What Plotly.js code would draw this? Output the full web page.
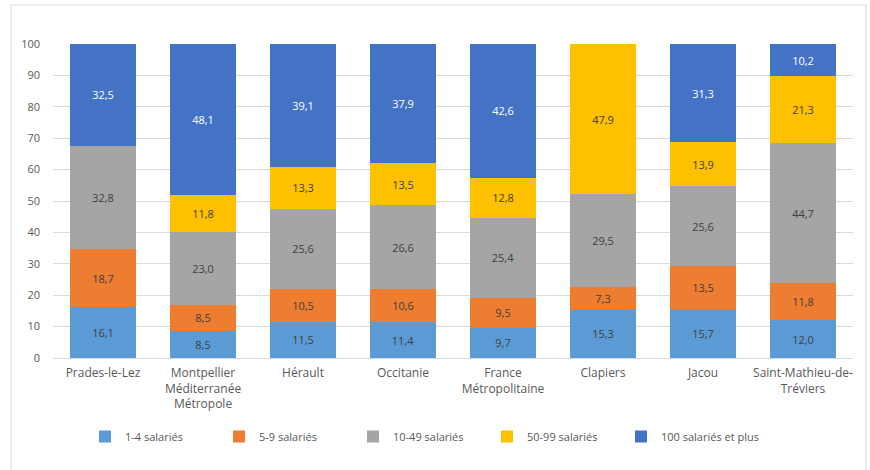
<!DOCTYPE html>
<html>
<head>
<meta charset="utf-8">
<script src="https://cdn.plot.ly/plotly-3.0.1.min.js"></script>
<style>
html,body{margin:0;padding:0;background:#fff;}
#chart{width:870px;height:470px;}
</style>
</head>
<body>
<div id="chart"></div>
<script>
const categories = ["Prades-le-Lez", "Montpellier<br>Méditerranée<br>Métropole", "Hérault", "Occitanie", "France<br>Métropolitaine", "Clapiers", "Jacou", "Saint-Mathieu-de-<br>Tréviers"];
const seriesNames = ["1-4 salariés", "5-9 salariés", "10-49 salariés", "50-99 salariés", "100 salariés et plus"];
const s1_4 = [16.1, 8.5, 11.5, 11.4, 9.7, 15.3, 15.7, 12.0];
const s5_9 = [18.7, 8.5, 10.5, 10.6, 9.5, 7.3, 13.5, 11.8];
const s10_49 = [32.8, 23.0, 25.6, 26.6, 25.4, 29.5, 25.6, 44.7];
const s50_99 = [0.0, 11.8, 13.3, 13.5, 12.8, 47.9, 13.9, 21.3];
const s100 = [32.5, 48.1, 39.1, 37.9, 42.6, 0.0, 31.3, 10.2];
const yTicks = [0, 10, 20, 30, 40, 50, 60, 70, 80, 90, 100];

const seriesValues = [s1_4, s5_9, s10_49, s50_99, s100];
const colors = ["#5B9BD5", "#ED7D31", "#A5A5A5", "#FFC000", "#4472C4"];
const textColors = ["#404040", "#404040", "#404040", "#404040", "#FFFFFF"];
const fontFam = "Open Sans, Noto Sans, sans-serif";

const fmt = v => v === 0 ? "" : v.toFixed(1).replace(".", ",");

const legendIds = ["legend", "legend2", "legend3", "legend4", "legend5"];

const data = seriesValues.map((vals, i) => ({
  type: "bar",
  name: seriesNames[i],
  legend: legendIds[i],
  x: categories,
  y: vals,
  marker: {color: colors[i]},
  text: vals.map(fmt),
  textposition: "inside",
  insidetextanchor: "middle",
  textangle: 0,
  constraintext: "none",
  insidetextfont: {family: fontFam, size: 11, color: textColors[i]},
  hoverinfo: "skip"
}));

const X0 = 53, PW = 800, Y0 = 358, PH = 314;
const px = x => (x - X0) / PW;
const py = y => (Y0 - y) / PH;

const layout = {
  width: 870,
  height: 470,
  barmode: "stack",
  bargap: 0.34,
  margin: {l: 53, r: 17, t: 44, b: 112, autoexpand: false},
  paper_bgcolor: "#fff",
  plot_bgcolor: "#fff",
  font: {family: fontFam, size: 11, color: "#595959"},
  showlegend: true,
  xaxis: {
    type: "category",
    tickfont: {family: fontFam, size: 12, color: "#595959"},
    ticklabelstandoff: 6,
    showline: false,
    ticks: "",
    fixedrange: true
  },
  yaxis: {
    range: [0, 100],
    tickvals: yTicks,
    ticktext: yTicks.map(String),
    showgrid: true,
    gridcolor: "#D9D9D9",
    gridwidth: 1,
    zeroline: true,
    zerolinecolor: "#D9D9D9",
    zerolinewidth: 1,
    showline: false,
    ticks: "",
    ticklabelstandoff: 12,
    tickfont: {family: fontFam, size: 11, color: "#595959"},
    fixedrange: true
  },
  shapes: [{
    type: "rect", xref: "paper", yref: "paper",
    x0: px(11), x1: px(866), y0: py(480), y1: py(5),
    line: {color: "#D9D9D9", width: 1}, fillcolor: "rgba(0,0,0,0)", layer: "below"
  }],
  hovermode: false
};

const legendX = [85, 219, 353, 487, 621];
legendIds.forEach((id, i) => {
  layout[id] = {
    orientation: "h",
    x: px(legendX[i]), xanchor: "left",
    y: py(422), yanchor: "top",
    itemwidth: 30,
    bgcolor: "rgba(0,0,0,0)",
    font: {family: fontFam, size: 11, color: "#595959"},
    itemclick: false, itemdoubleclick: false
  };
});

Plotly.newPlot("chart", data, layout, {displayModeBar: false, staticPlot: true});
</script>
</body>
</html>
